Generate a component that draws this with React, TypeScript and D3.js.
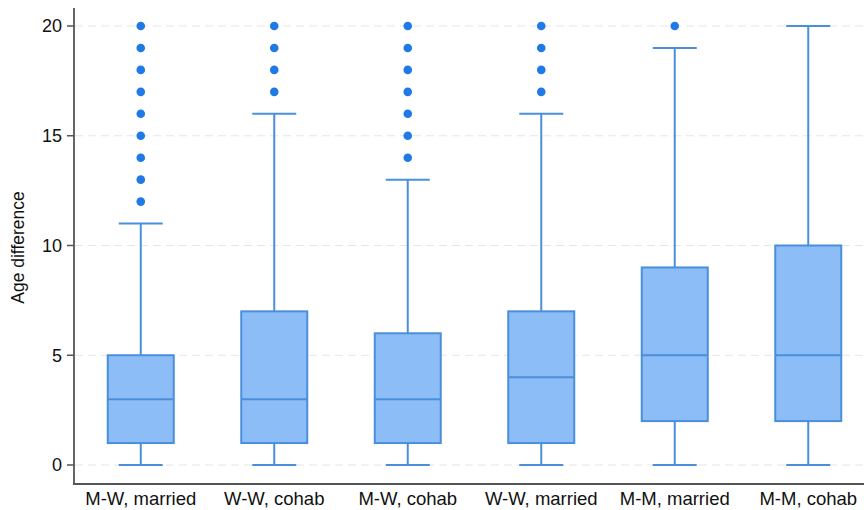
import React from "react";
import * as d3 from "d3";

// Couple types along the x axis
const categories = [
  "M-W, married",
  "W-W, cohab",
  "M-W, cohab",
  "W-W, married",
  "M-M, married",
  "M-M, cohab",
];

// Box statistics per category
const q1 = [1, 1, 1, 1, 2, 2];
const medians = [3, 3, 3, 4, 5, 5];
const q3 = [5, 7, 6, 7, 9, 10];
const whiskerLow = [0, 0, 0, 0, 0, 0];
const whiskerHigh = [11, 16, 13, 16, 19, 20];

// Outlying values per category
const outliers = [
  [12, 13, 14, 15, 16, 17, 18, 19, 20],
  [17, 18, 19, 20],
  [14, 15, 16, 17, 18, 19, 20],
  [17, 18, 19, 20],
  [20],
  [],
];

const yTicks = [0, 5, 10, 15, 20];

const W = 864;
const H = 510;
const FONT = "'Liberation Sans', Arial, Helvetica, sans-serif";

export default function App() {
  const x = d3
    .scaleBand<string>()
    .domain(categories)
    .range([74, 875])
    .paddingInner(0)
    .paddingOuter(0);
  const y = d3.scaleLinear().domain([0, 20]).range([465, 26]);

  const boxW = 66;
  const capW = 44;
  const fill = "#8cbdf7";
  const stroke = "#4a8fdb";
  const dot = "#1f7ae6";

  return (
    <svg
      width={W}
      height={H}
      style={{ position: "absolute", left: 0, top: 0, background: "#fff" }}
      fontFamily={FONT}
    >
      {/* grid */}
      {yTicks.map((t) => (
        <line
          key={"g" + t}
          x1={75}
          x2={W}
          y1={y(t)}
          y2={y(t)}
          stroke="#e6e6e6"
          strokeWidth={1.2}
          strokeDasharray="8,5"
        />
      ))}

      {/* boxes */}
      {categories.map((c, i) => {
        const cx = (x(c) as number) + x.bandwidth() / 2;
        return (
          <g key={c}>
            <line x1={cx} x2={cx} y1={y(q3[i])} y2={y(whiskerHigh[i])} stroke={stroke} strokeWidth={2} />
            <line x1={cx} x2={cx} y1={y(q1[i])} y2={y(whiskerLow[i])} stroke={stroke} strokeWidth={2} />
            <line x1={cx - capW / 2} x2={cx + capW / 2} y1={y(whiskerHigh[i])} y2={y(whiskerHigh[i])} stroke={stroke} strokeWidth={2} />
            <line x1={cx - capW / 2} x2={cx + capW / 2} y1={y(whiskerLow[i])} y2={y(whiskerLow[i])} stroke={stroke} strokeWidth={2} />
            <rect
              x={cx - boxW / 2}
              y={y(q3[i])}
              width={boxW}
              height={y(q1[i]) - y(q3[i])}
              fill={fill}
              stroke={stroke}
              strokeWidth={2}
            />
            <line x1={cx - boxW / 2} x2={cx + boxW / 2} y1={y(medians[i])} y2={y(medians[i])} stroke={stroke} strokeWidth={2} />
            {outliers[i].map((v) => (
              <circle key={v} cx={cx} cy={y(v)} r={4.3} fill={dot} />
            ))}
          </g>
        );
      })}

      {/* y axis */}
      <line x1={74} x2={74} y1={8} y2={485} stroke="#555" strokeWidth={1.8} />
      {yTicks.map((t) => (
        <g key={"t" + t}>
          <line x1={67} x2={74} y1={y(t)} y2={y(t)} stroke="#555" strokeWidth={1.5} />
          <text x={62} y={y(t)} dy="0.36em" textAnchor="end" fontSize={18} fill="#111">
            {t}
          </text>
        </g>
      ))}
      <text
        transform={`translate(24,${(y(0) + y(20)) / 2 + 2}) rotate(-90)`}
        textAnchor="middle"
        fontSize={17.5}
        fill="#111"
      >
        Age difference
      </text>

      {/* x axis */}
      <line x1={73} x2={W} y1={484} y2={484} stroke="#555" strokeWidth={1.8} />
      {categories.map((c) => (
        <text
          key={"l" + c}
          x={(x(c) as number) + x.bandwidth() / 2}
          y={505}
          textAnchor="middle"
          fontSize={18.5}
          fill="#111"
        >
          {c}
        </text>
      ))}
    </svg>
  );
}
